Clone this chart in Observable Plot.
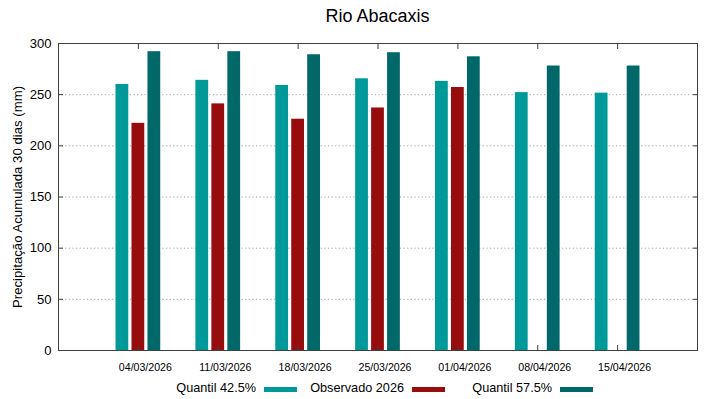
<!DOCTYPE html>
<html>
<head>
<meta charset="utf-8">
<script src="https://cdn.jsdelivr.net/npm/d3@7"></script>
<script src="https://cdn.jsdelivr.net/npm/@observablehq/plot@0.6"></script>
<style>
  html, body { margin: 0; padding: 0; background: #fff; }
  #wrap { position: relative; width: 719px; height: 399px; font-family: "Liberation Sans", Arial, sans-serif; color: #000; }
  #title { position: absolute; left: 58px; width: 639px; top: 7px; text-align: center; font-size: 18px; line-height: 18px; }
  .leg-text { position: absolute; font-size: 12.7px; line-height: 13px; text-align: right; width: 140px; }
  .leg-sw { position: absolute; width: 33px; height: 5px; }
  svg { position: absolute; left: 0; top: 0; }
</style>
</head>
<body>
<div id="wrap">
  <div id="title">Rio Abacaxis</div>
</div>
<script>
const dates = ["04/03/2026", "11/03/2026", "18/03/2026", "25/03/2026", "01/04/2026", "08/04/2026", "15/04/2026"];
const seriesNames = ["Quantil 42.5%", "Observado 2026", "Quantil 57.5%"];
const seriesColors = ["#009999", "#970d0d", "#006868"];
const q425 = [260, 264, 259, 265.5, 263, 252, 251.5];
const obs2026 = [222, 241, 226, 237, 257, null, null];
const q575 = [292, 292, 289, 291, 287, 278, 278];
const yTicks = [0, 50, 100, 150, 200, 250, 300];
const yLabel = "Precipitação Acumulada 30 dias (mm)";

const seriesValues = [q425, obs2026, q575];
const offsets = [-0.2, 0, 0.2];
const halfW = 0.08;

const rows = [];
seriesValues.forEach((vals, s) => {
  vals.forEach((v, i) => {
    if (v != null) rows.push({i, date: dates[i], series: seriesNames[s], s, value: v});
  });
});

const idx = dates.map((_, i) => i);
const font = "Liberation Sans, Arial, sans-serif";

const chart = Plot.plot({
  width: 719,
  height: 399,
  marginTop: 43,
  marginBottom: 49,
  marginLeft: 58,
  marginRight: 22,
  style: {fontFamily: font, background: "transparent"},
  x: {type: "linear", domain: [-1, 7]},
  y: {domain: [0, 300]},
  color: {domain: seriesNames, range: seriesColors},
  marks: [
    Plot.gridY(yTicks.filter(t => t > 0 && t < 300), {stroke: "#a0a0a0", strokeOpacity: 1, strokeDasharray: "1.2,2.4"}),
    Plot.rect(rows, {
      x1: d => d.i + offsets[d.s] - halfW,
      x2: d => d.i + offsets[d.s] + halfW,
      y1: 0,
      y2: "value",
      fill: "series"
    }),
    Plot.axisY({ticks: yTicks, tickSize: 0, tickPadding: 7, fontSize: 13, label: null, anchor: "left"}),
    Plot.axisX({ticks: idx, tickFormat: i => dates[i], tickSize: 0, tickPadding: 12.5, fontSize: 10.6, dx: 7, label: null, anchor: "bottom"}),
    Plot.axisY({ticks: yTicks, tickSize: 5, dx: 5, text: null, label: null, anchor: "left", stroke: "#404040"}),
    Plot.axisY({ticks: yTicks, tickSize: 5, dx: -5, text: null, label: null, anchor: "right", stroke: "#404040"}),
    Plot.axisX({ticks: idx, tickSize: 5, dy: -5, text: null, label: null, anchor: "bottom", stroke: "#404040"}),
    Plot.axisX({ticks: idx, tickSize: 5, dy: 5, text: null, label: null, anchor: "top", stroke: "#404040"}),
    Plot.frame({stroke: "#404040", strokeWidth: 1}),
    Plot.text([yLabel], {frameAnchor: "left", textAnchor: "middle", text: d => d, rotate: -90, dx: -41, fontSize: 13.2, fill: "#000"})
  ]
});

const wrap = document.getElementById("wrap");
wrap.appendChild(chart);

seriesNames.forEach((name, k) => {
  const t = document.createElement("div");
  t.className = "leg-text";
  t.textContent = name;
  t.style.left = (256 + 148 * k - 140) + "px";
  t.style.top = "382px";
  wrap.appendChild(t);
  const sw = document.createElement("div");
  sw.className = "leg-sw";
  sw.style.left = (264 + 148 * k) + "px";
  sw.style.top = "387px";
  sw.style.background = seriesColors[k];
  wrap.appendChild(sw);
});
</script>
</body>
</html>
